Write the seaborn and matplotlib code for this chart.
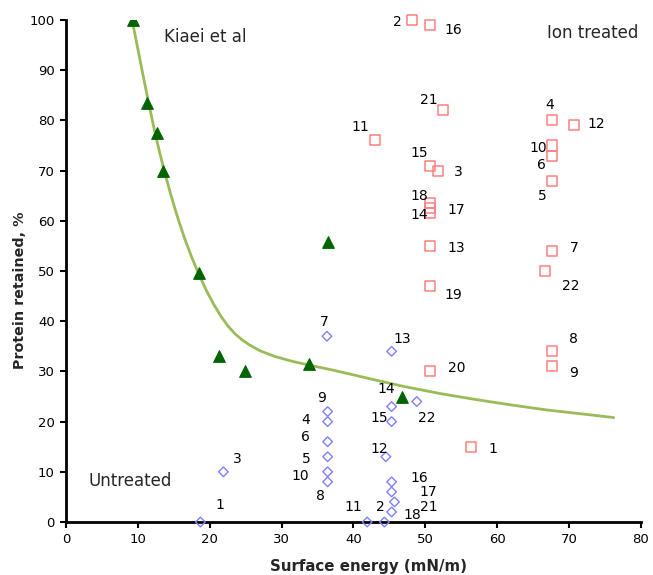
import matplotlib
matplotlib.use("Agg")
import matplotlib.pyplot as plt
import seaborn as sns
import pandas as pd

# ---------------- data ----------------
kiaei_x = [9.3, 11.3, 12.7, 13.5, 18.5, 21.3, 24.9, 33.8, 36.5, 46.8]
kiaei_y = [100, 83.5, 77.5, 70, 49.6, 33, 30, 31.5, 55.8, 25]

trend_x = [9.2, 10.0, 11.0, 11.6, 12.4, 13.1, 13.8, 14.5, 15.5, 16.5, 17.5, 18.5,
           19.5, 20.5, 21.5, 22.5, 23.5, 24.5, 25.5, 27.0, 29.0, 31.5, 34.0,
           37.0, 40.0, 43.0, 47.0, 52.0, 57.0, 62.0, 67.0, 72.0, 76.2]
trend_y = [100, 94.2, 87.0, 82.8, 77.4, 73.2, 69.3, 65.6, 60.8, 56.5, 52.7, 49.3,
           46.2, 43.5, 41.1, 39.1, 37.5, 36.3, 35.3, 34.1, 33.0, 32.0, 31.2,
           30.3, 29.3, 28.3, 27.0, 25.6, 24.4, 23.3, 22.3, 21.5, 20.8]

untreated_labels = ["1", "2", "3", "4", "5", "6", "7", "8", "9", "10", "11",
                    "12", "13", "14", "15", "16", "17", "18", "21", "22"]
untreated_x = [18.7, 44.3, 21.9, 36.4, 36.4, 36.4, 36.3, 36.4, 36.4, 36.4, 41.9,
               44.5, 45.3, 45.3, 45.3, 45.3, 45.3, 45.3, 45.7, 48.8]
untreated_y = [0, 0, 10, 20, 13, 16, 37, 8, 22, 10, 0,
               13, 34, 23, 20, 8, 6, 2, 4, 24]

ion_labels = [str(i) for i in range(1, 23)]
ion_x = [56.3, 48.2, 51.8, 67.6, 67.6, 67.6, 67.6, 67.6, 67.6, 67.6, 43.0,
         70.7, 50.7, 50.7, 50.7, 50.7, 50.7, 50.7, 50.7, 50.7, 52.4, 66.6]
ion_y = [15, 100, 70, 80, 68, 73, 54, 34, 31, 75, 76,
         79, 55, 61.5, 71, 99, 62.5, 63.5, 47, 30, 82, 50]

x_ticks = [0, 10, 20, 30, 40, 50, 60, 70, 80]
y_ticks = [0, 10, 20, 30, 40, 50, 60, 70, 80, 90, 100]

# label offsets (pixels) relative to each marker
untreated_off = [(19, 17), (-4, 15), (14, 13), (-22, 2), (-21, -2), (-22, 5),
                 (-3, 14), (-7, -14), (-6, 14), (-27, -4), (-14, 15),
                 (-7, 8), (11, 12), (-5, 18), (-12, 4), (28, 4), (37, 0),
                 (21, -3), (34, -5), (10, -16)]
ion_off = [(22, -2), (-15, -2), (20, -1), (-2, 15), (-10, -15), (-10, -9),
           (22, 3), (22, 12), (22, -7), (-14, -3), (-15, 13),
           (22, 1), (26, -2), (-11, -2), (-11, 13), (23, -5), (26, -2),
           (-11, 7), (23, -9), (26, 3), (-14, 10), (26, -15)]

# ---------------- style ----------------
sns.set_style("ticks")
plt.rcParams["font.family"] = ["DejaVu Sans"]

fig = plt.figure(figsize=(6.53, 5.75), dpi=100)
ax = fig.add_axes([66 / 653, 53 / 575, 575 / 653, 502 / 575])

trend_df = pd.DataFrame({"x": trend_x, "y": trend_y})
sns.lineplot(data=trend_df, x="x", y="y", ax=ax, color="#9BBB59", linewidth=2,
             sort=False, zorder=2)

kdf = pd.DataFrame({"x": kiaei_x, "y": kiaei_y})
sns.scatterplot(data=kdf, x="x", y="y", ax=ax, marker="^", s=70,
                color="#006400", edgecolor="#006400", linewidth=0.8, zorder=4)

udf = pd.DataFrame({"x": untreated_x, "y": untreated_y, "lab": untreated_labels})
sns.scatterplot(data=udf, x="x", y="y", ax=ax, marker="D", s=24,
                facecolor="none", edgecolor="#7F7FFF", linewidth=1.0,
                zorder=3, clip_on=False)

idf = pd.DataFrame({"x": ion_x, "y": ion_y, "lab": ion_labels})
sns.scatterplot(data=idf, x="x", y="y", ax=ax, marker="s", s=52,
                facecolor="none", edgecolor="#FF7F7F", linewidth=1.1,
                zorder=3, clip_on=False)

for xv, yv, lab, off in zip(untreated_x, untreated_y, untreated_labels, untreated_off):
    ax.annotate(lab, (xv, yv), xytext=off, textcoords="offset pixels",
                ha="center", va="center", fontsize=10, color="black",
                annotation_clip=False, zorder=6)
for xv, yv, lab, off in zip(ion_x, ion_y, ion_labels, ion_off):
    ax.annotate(lab, (xv, yv), xytext=off, textcoords="offset pixels",
                ha="center", va="center", fontsize=10, color="black",
                annotation_clip=False, zorder=6)

ax.text(19.4, 96.6, "Kiaei et al", ha="center", va="center", fontsize=12)
ax.text(73.3, 97.5, "Ion treated", ha="center", va="center", fontsize=12)
ax.text(8.9, 8.2, "Untreated", ha="center", va="center", fontsize=12)

ax.set_xlim(0, 80)
ax.set_ylim(0, 100)
ax.set_xticks(x_ticks)
ax.set_yticks(y_ticks)
ax.tick_params(axis="both", direction="out", length=4, width=1.5,
               labelsize=9.5, colors="black", pad=4)
for side in ["top", "right"]:
    ax.spines[side].set_visible(False)
for side in ["left", "bottom"]:
    ax.spines[side].set_linewidth(2)
    ax.spines[side].set_color("black")

ax.set_xlabel("Surface energy (mN/m)", fontsize=10.8, fontweight="bold")
ax.set_ylabel("Protein retained, %", fontsize=10.3, fontweight="bold")
ax.xaxis.set_label_coords((369 - 66) / 575, -(567 - 522) / 502)
ax.yaxis.set_label_coords(-(66 - 20) / 575, (522 - 290) / 502)
ax.xaxis.label.set_va("center")
ax.yaxis.label.set_va("center")

fig.savefig("out.png", dpi=100)
